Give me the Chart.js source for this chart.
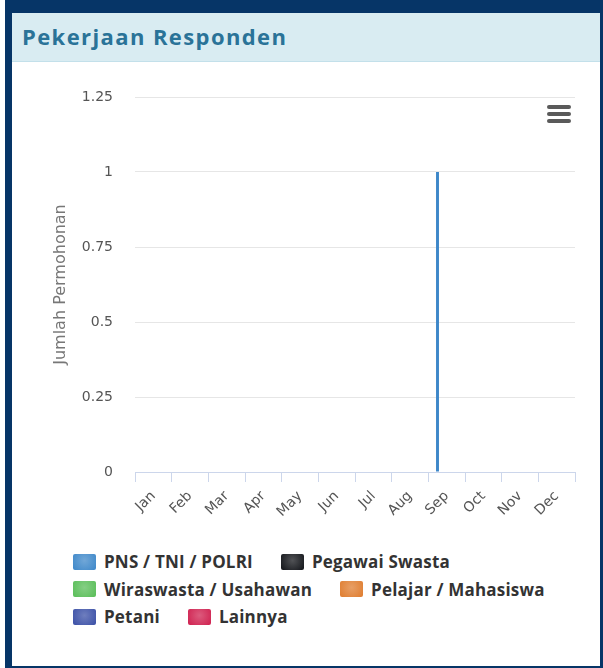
<!DOCTYPE html>
<html>
<head>
<meta charset="utf-8">
<script src="https://cdn.jsdelivr.net/npm/chart.js@4.4.0/dist/chart.umd.min.js"></script>
<style>
    body { margin: 0; background: #fff; width: 603px; height: 668px; overflow: hidden; position: relative; }
    .panel {
        position: absolute; left: 5px; top: 0;
        width: 588px; height: 653px;
        border: 7px solid #063567; border-top-width: 13px;
        background: #fff;
    }
    .panel-head {
        height: 48px; background: #d9ecf2; border-bottom: 1px solid #c3e0ea;
        font-family: "Open Sans", sans-serif; font-weight: bold; font-size: 22px; letter-spacing: 1.4px;
        color: #2a7398; line-height: 46px; padding-left: 10px;
    }
    #chartBox { position: absolute; left: 0; top: 50px; width: 588px; height: 480px; }
    .menu { position: absolute; left: 535px; top: 92px; width: 24px; }
    .menu div { height: 4px; background: #5a5a5a; border-radius: 2px; margin-bottom: 3px; }
    #legend {
        position: absolute; left: 61px; top: 535px;
        font-family: "Open Sans", sans-serif; font-weight: bold; font-size: 17px; letter-spacing: 0.2px; color: #333;
    }
    .lrow { display: flex; height: 27.5px; align-items: center; }
    .litem { display: flex; align-items: center; margin-right: 28px; }
    .sw { width: 23px; height: 16px; border-radius: 2px; margin-right: 8px; }
</style>
</head>
<body>
<div class="panel">
    <div class="panel-head">Pekerjaan Responden</div>
    <div id="chartBox"><canvas id="jobChart" width="588" height="480"></canvas></div>
    <div class="menu"><div></div><div></div><div></div></div>
    <div id="legend"></div>
</div>
<script>
const months = ["Jan", "Feb", "Mar", "Apr", "May", "Jun", "Jul", "Aug", "Sep", "Oct", "Nov", "Dec"];
const seriesNames = ["PNS / TNI / POLRI", "Pegawai Swasta", "Wiraswasta / Usahawan", "Pelajar / Mahasiswa", "Petani", "Lainnya"];
const pnsData = [0, 0, 0, 0, 0, 0, 0, 0, 1, 0, 0, 0];
const swastaData = [0, 0, 0, 0, 0, 0, 0, 0, 0, 0, 0, 0];
const wiraswastaData = [0, 0, 0, 0, 0, 0, 0, 0, 0, 0, 0, 0];
const pelajarData = [0, 0, 0, 0, 0, 0, 0, 0, 0, 0, 0, 0];
const petaniData = [0, 0, 0, 0, 0, 0, 0, 0, 0, 0, 0, 0];
const lainnyaData = [0, 0, 0, 0, 0, 0, 0, 0, 0, 0, 0, 0];
const yTicks = [0, 0.25, 0.5, 0.75, 1, 1.25];

const seriesColors = ["#3d87c9", "#111318", "#58bd57", "#df7c2e", "#3a4fa6", "#cf1f4e"];
const allData = [pnsData, swastaData, wiraswastaData, pelajarData, petaniData, lainnyaData];

const datasets = seriesNames.map((name, i) => ({
    label: name,
    data: allData[i],
    backgroundColor: seriesColors[i],
    borderWidth: 0,
    categoryPercentage: 0.6,
    barPercentage: 0.8,
}));

const axisFont = "DejaVu Sans";

const ctx = document.getElementById("jobChart").getContext("2d");
new Chart(ctx, {
    type: "bar",
    data: { labels: months, datasets: datasets },
    options: {
        responsive: false,
        maintainAspectRatio: false,
        animation: false,
        layout: { padding: { top: 34, right: 25, left: 0, bottom: 0 } },
        scales: {
            x: {
                grid: {
                    drawOnChartArea: false,
                    drawTicks: true,
                    tickLength: 10,
                    color: "#ccd6eb",
                },
                border: { color: "#ccd6eb" },
                ticks: {
                    color: "#555",
                    font: { family: axisFont, size: 14 },
                    minRotation: 45,
                    maxRotation: 45,
                    autoSkip: false,
                    padding: 6,
                },
                afterFit: (s) => { s.height = 71; },
            },
            y: {
                min: 0,
                max: 1.25,
                afterBuildTicks: (s) => { s.ticks = yTicks.map((v) => ({ value: v })); },
                grid: { color: "#e6e6e6", drawTicks: false },
                border: { display: false },
                ticks: {
                    color: "#555",
                    font: { family: axisFont, size: 14 },
                    padding: 22,
                    callback: (v) => String(v),
                },
                title: {
                    display: true,
                    text: "Jumlah Permohonan",
                    color: "#777",
                    font: { family: axisFont, size: 16 },
                    padding: { top: 39, bottom: 0 },
                },
                afterFit: (s) => { s.width = 123; },
            },
        },
        plugins: {
            legend: { display: false },
            tooltip: { enabled: false },
        },
    },
});

// legend laid out in rows like the original
const legendRows = [[0, 1], [2, 3], [4, 5]];
const legendEl = document.getElementById("legend");
legendRows.forEach((row) => {
    const r = document.createElement("div");
    r.className = "lrow";
    row.forEach((i) => {
        const item = document.createElement("div");
        item.className = "litem";
        const sw = document.createElement("span");
        sw.className = "sw";
        sw.style.background = "radial-gradient(circle at 50% 40%, " + seriesColors[i] + "bb, " + seriesColors[i] + ")";
        item.appendChild(sw);
        item.appendChild(document.createTextNode(seriesNames[i]));
        r.appendChild(item);
    });
    legendEl.appendChild(r);
});
</script>
</body>
</html>
